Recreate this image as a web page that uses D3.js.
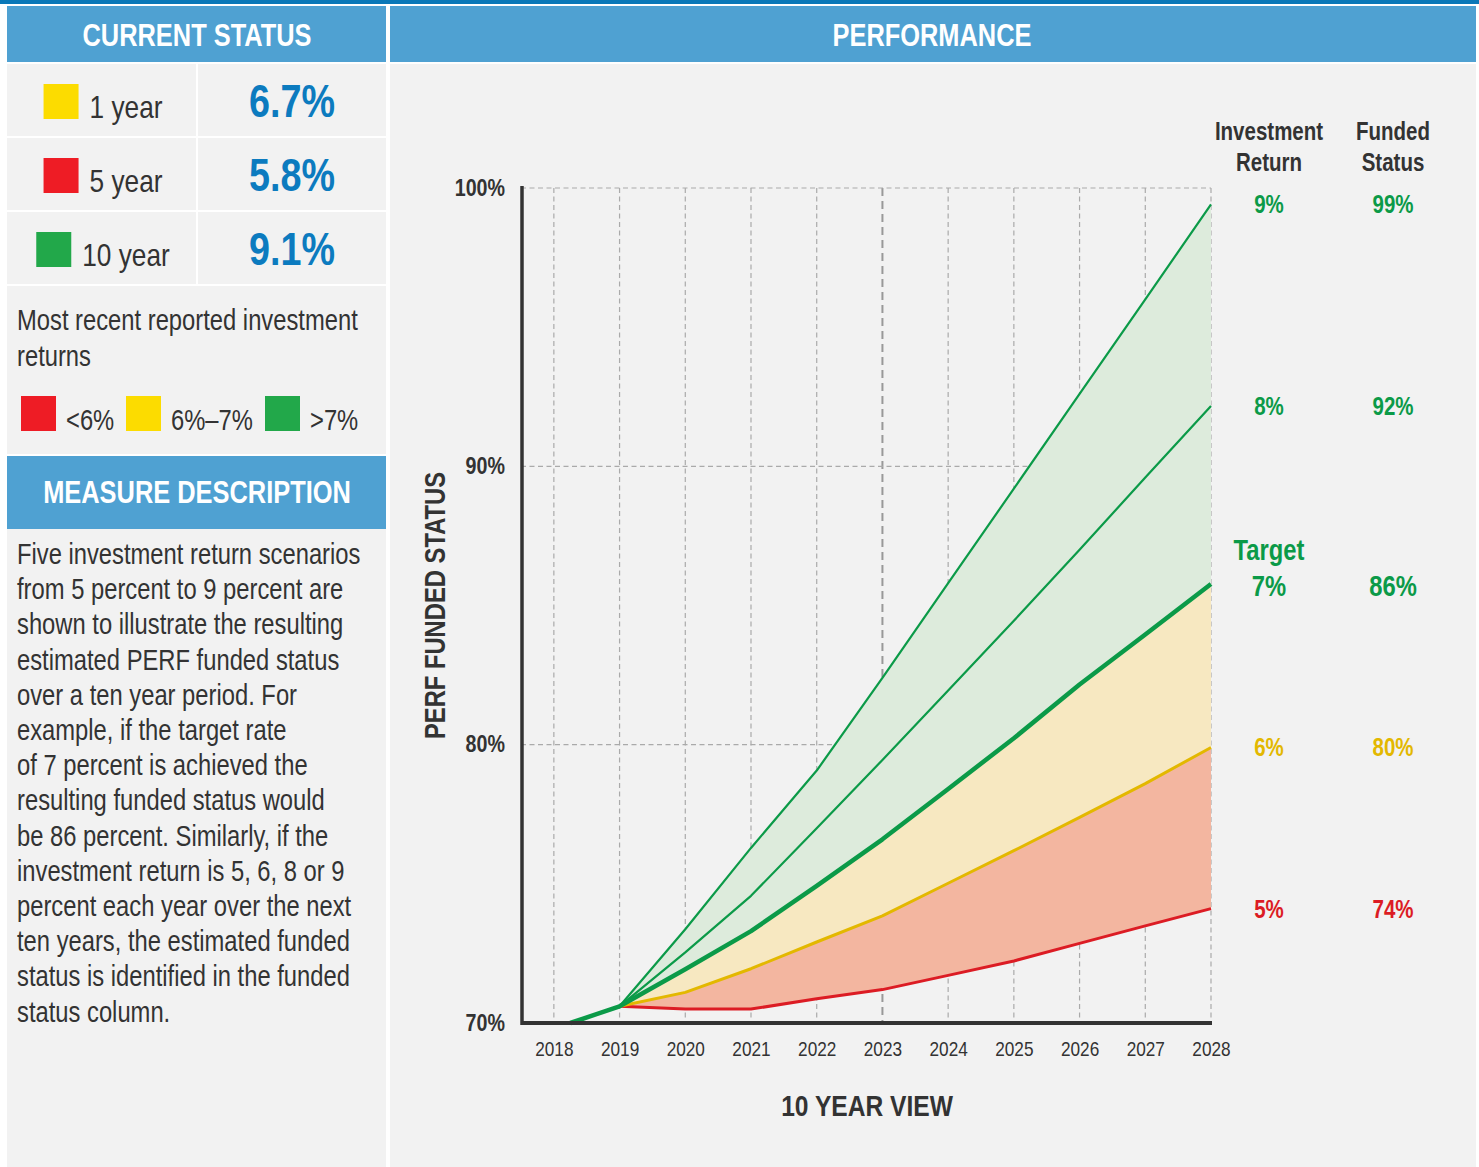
<!DOCTYPE html>
<html>
<head>
<meta charset="utf-8">
<script src="https://cdn.jsdelivr.net/npm/d3@7"></script>
<style>
  body { margin: 0; background: #fff; }
  svg { display: block; }
  text { font-family: "Liberation Sans", Arial, sans-serif; }
</style>
</head>
<body>
<svg id="chart" width="1479" height="1167"></svg>
<script>
// current status table
const periods = ['1 year', '5 year', '10 year'];
const periodReturns = ['6.7%', '5.8%', '9.1%'];
const periodColors = ['#fcdc00', '#ee1c25', '#22a84a'];

const legendLabels = ['<6%', '6%\u20137%', '>7%'];
const legendColors = ['#ee1c25', '#fcdc00', '#22a84a'];

const descLines = [
  'Five investment return scenarios',
  'from 5 percent to 9 percent are',
  'shown to illustrate the resulting',
  'estimated PERF funded status',
  'over a ten year period. For',
  'example, if the target rate',
  'of 7 percent is achieved the',
  'resulting funded status would',
  'be 86 percent. Similarly, if the',
  'investment return is 5, 6, 8 or 9',
  'percent each year over the next',
  'ten years, the estimated funded',
  'status is identified in the funded',
  'status column.'
];

// projection data
const years = [2018.25, 2019, 2020, 2021, 2022, 2023, 2024, 2025, 2026, 2027, 2028];
const yearTicks = [2018, 2019, 2020, 2021, 2022, 2023, 2024, 2025, 2026, 2027, 2028];
const yTicks = [70, 80, 90, 100];
const ret5 = [null, 70.6, 70.5, 70.5, 70.87, 71.2, 71.71, 72.23, 72.86, 73.49, 74.11];
const ret6 = [null, 70.6, 71.1, 71.95, 72.91, 73.85, 75.02, 76.19, 77.39, 78.6, 79.9];
const ret7 = [70.0, 70.6, 71.93, 73.3, 74.93, 76.6, 78.41, 80.23, 82.16, 83.96, 85.77];
const ret8 = [null, 70.6, 72.54, 74.57, 77.0, 79.45, 81.95, 84.45, 87.0, 89.6, 92.17];
const ret9 = [null, 70.6, 73.37, 76.29, 79.07, 82.4, 85.8, 89.2, 92.6, 96.0, 99.41];

const scenarioReturns = ['9%', '8%', '7%', '6%', '5%'];
const scenarioFunded = ['99%', '92%', '86%', '80%', '74%'];

const blue = '#4fa1d2';
const dark = '#333';
const green = '#0b9a48';
const yellow = '#e3b800';
const red = '#dc1c24';
const SX = 0.82; // squeeze Liberation Sans into a narrow face

const svg = d3.select('#chart');

function label(x, y, str, size, opts = {}) {
  return svg.append('text')
    .attr('transform', `translate(${x},${y}) scale(${SX},1)`)
    .attr('text-anchor', opts.anchor || 'start')
    .style('font-size', size + 'px')
    .style('font-weight', opts.bold ? 'bold' : 'normal')
    .attr('fill', opts.fill || dark)
    .text(str);
}

// backgrounds
svg.append('rect').attr('x', 0).attr('y', 0).attr('width', 1479).attr('height', 4).attr('fill', '#0a78b8');
svg.append('rect').attr('x', 7).attr('y', 6).attr('width', 379).attr('height', 56).attr('fill', blue);
svg.append('rect').attr('x', 390).attr('y', 6).attr('width', 1086).attr('height', 56).attr('fill', blue);
svg.append('rect').attr('x', 390).attr('y', 64).attr('width', 1086).attr('height', 1103).attr('fill', '#f2f2f2');

label(197, 46, 'CURRENT STATUS', 31, { anchor: 'middle', bold: true, fill: '#fff' });
label(932, 46, 'PERFORMANCE', 31, { anchor: 'middle', bold: true, fill: '#fff' });

// status rows
periods.forEach((p, i) => {
  const top = 64 + i * 74;
  svg.append('rect').attr('x', 7).attr('y', top).attr('width', 189).attr('height', 72).attr('fill', '#f2f2f2');
  svg.append('rect').attr('x', 198).attr('y', top).attr('width', 188).attr('height', 72).attr('fill', '#f2f2f2');
  const t = label(0, top + 54, p, 32);
  const w = t.node().getComputedTextLength() * SX;
  const x0 = 103 - (35 + 11 + w) / 2;
  svg.append('rect').attr('x', x0).attr('y', top + 20).attr('width', 35).attr('height', 35).attr('fill', periodColors[i]);
  t.attr('transform', `translate(${x0 + 46},${top + 54}) scale(${SX},1)`);
  label(292, top + 53, periodReturns[i], 46, { anchor: 'middle', bold: true, fill: '#0c7bbf' });
});

// legend block
svg.append('rect').attr('x', 7).attr('y', 286).attr('width', 379).attr('height', 168).attr('fill', '#f2f2f2');
label(17, 330, 'Most recent reported investment', 29);
label(17, 366, 'returns', 29);
const legendX = [21, 126, 265];
legendLabels.forEach((l, i) => {
  svg.append('rect').attr('x', legendX[i]).attr('y', 396).attr('width', 35).attr('height', 35).attr('fill', legendColors[i]);
  label(legendX[i] + 45, 430, l, 29);
});

svg.append('rect').attr('x', 7).attr('y', 456).attr('width', 379).attr('height', 73).attr('fill', blue);
label(197, 503, 'MEASURE DESCRIPTION', 31, { anchor: 'middle', bold: true, fill: '#fff' });

svg.append('rect').attr('x', 7).attr('y', 529).attr('width', 379).attr('height', 638).attr('fill', '#f2f2f2');
descLines.forEach((d, i) => label(17, 564 + i * 35.2, d, 29));

// chart
const x = d3.scaleLinear().domain([2017.5, 2028]).range([521, 1211]);
const y = d3.scaleLinear().domain([70, 100]).range([1023, 188]);

const rows = years.map((yr, i) => ({ yr, r5: ret5[i], r6: ret6[i], r7: ret7[i], r8: ret8[i], r9: ret9[i] }));
const withAll = rows.filter(d => d.r5 != null);

const grid = svg.append('g');
grid.selectAll('line.v').data(yearTicks).join('line')
  .attr('x1', d => x(d)).attr('x2', d => x(d)).attr('y1', y(100)).attr('y2', y(70))
  .attr('stroke', d => d === 2023 ? '#999' : '#aaa')
  .attr('stroke-width', d => d === 2023 ? 2 : 1.2)
  .attr('stroke-dasharray', d => d === 2023 ? '8,5' : '5,3.5');
grid.selectAll('line.h').data([80, 90, 100]).join('line')
  .attr('x1', x(2017.5)).attr('x2', x(2028)).attr('y1', d => y(d)).attr('y2', d => y(d))
  .attr('stroke', '#aaa').attr('stroke-width', 1.2).attr('stroke-dasharray', '5,3.5');

const band = (lo, hi) => d3.area().x(d => x(d.yr)).y0(d => y(d[lo])).y1(d => y(d[hi]));
svg.append('path').datum(withAll).attr('d', band('r5', 'r6')).attr('fill', '#f3b6a0');
svg.append('path').datum(withAll).attr('d', band('r6', 'r7')).attr('fill', '#f7e8c1');
svg.append('path').datum(withAll).attr('d', band('r7', 'r9')).attr('fill', '#ddebdc');

const lineFor = key => d3.line().defined(d => d[key] != null).x(d => x(d.yr)).y(d => y(d[key]));
const series = [
  { key: 'r5', color: red, width: 3 },
  { key: 'r6', color: yellow, width: 3 },
  { key: 'r8', color: green, width: 2.2 },
  { key: 'r9', color: green, width: 2.2 },
  { key: 'r7', color: green, width: 4.5 }
];
series.forEach(s => {
  svg.append('path').datum(rows).attr('d', lineFor(s.key))
    .attr('fill', 'none').attr('stroke', s.color).attr('stroke-width', s.width).attr('stroke-linejoin', 'round');
});

// axes
const yAxis = svg.append('g').attr('transform', `translate(${x(2017.5)},0)`)
  .call(d3.axisLeft(y).tickValues(yTicks).tickSize(0).tickPadding(0).tickFormat(d => d + '%'));
yAxis.select('.domain').remove();
yAxis.selectAll('text').attr('x', null).attr('dy', null)
  .attr('transform', `translate(-16,7) scale(${SX},1)`)
  .style('font-size', '24px').style('font-weight', 'bold').attr('fill', dark)
  .style('font-family', '"Liberation Sans", Arial, sans-serif');

const xAxis = svg.append('g').attr('transform', `translate(0,${y(70)})`)
  .call(d3.axisBottom(x).tickValues(yearTicks).tickSize(0).tickPadding(0).tickFormat(d3.format('d')));
xAxis.select('.domain').remove();
xAxis.selectAll('text').attr('y', null).attr('dy', null)
  .attr('transform', `translate(0,33) scale(${SX},1)`)
  .style('font-size', '21px').attr('fill', dark)
  .style('font-family', '"Liberation Sans", Arial, sans-serif');

svg.append('line').attr('x1', x(2017.5) + 1).attr('x2', x(2017.5) + 1).attr('y1', y(100) - 2).attr('y2', y(70) + 2)
  .attr('stroke', dark).attr('stroke-width', 3.5);
svg.append('line').attr('x1', x(2017.5)).attr('x2', x(2028) + 1).attr('y1', y(70)).attr('y2', y(70))
  .attr('stroke', dark).attr('stroke-width', 4);

svg.append('text').attr('transform', `translate(445,${(y(90) + y(80)) / 2}) rotate(-90) scale(${SX},1)`)
  .attr('text-anchor', 'middle').style('font-size', '29px').style('font-weight', 'bold').attr('fill', dark)
  .text('PERF FUNDED STATUS');
label(867, 1116, '10 YEAR VIEW', 30, { anchor: 'middle', bold: true });

// right columns
const colRet = 1269, colFund = 1393;
[['Investment', 'Return', colRet], ['Funded', 'Status', colFund]].forEach(([a, b, cx]) => {
  label(cx, 140, a, 25, { anchor: 'middle', bold: true });
  label(cx, 171, b, 25, { anchor: 'middle', bold: true });
});

const last = rows[rows.length - 1];
const ends = [last.r9, last.r8, last.r7, last.r6, last.r5];
const endColors = [green, green, green, yellow, red];
ends.forEach((v, i) => {
  const target = i === 2;
  const fs = target ? 29 : 25;
  const by = y(v) + (target ? 12 : 9);
  label(colRet, by, scenarioReturns[i], fs, { anchor: 'middle', bold: true, fill: endColors[i] });
  label(colFund, by, scenarioFunded[i], fs, { anchor: 'middle', bold: true, fill: endColors[i] });
  if (target) label(colRet, by - 36, 'Target', fs, { anchor: 'middle', bold: true, fill: endColors[i] });
});
</script>
</body>
</html>
